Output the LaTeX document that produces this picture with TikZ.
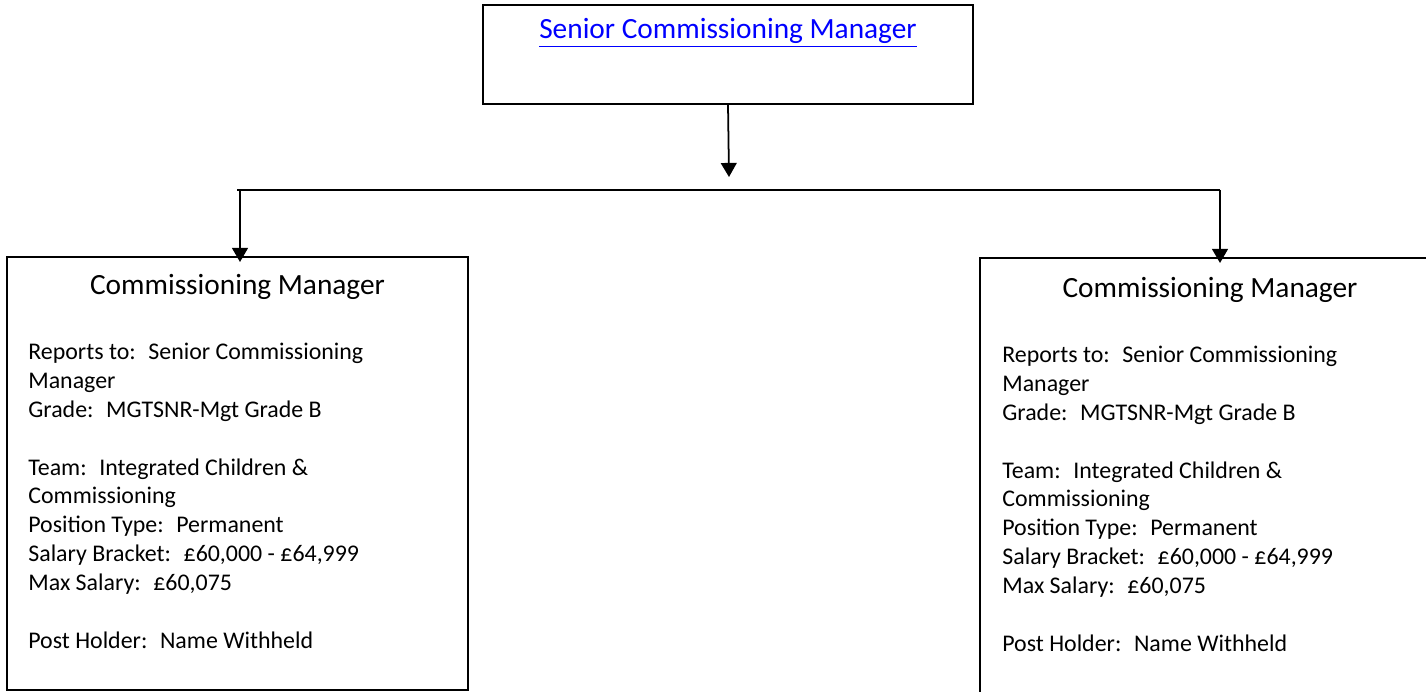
\documentclass[tikz,border=0pt]{standalone}
\usepackage{fontspec}
\setmainfont{Carlito}
\usetikzlibrary{arrows.meta}
\definecolor{linkblue}{RGB}{0,0,255}

\begin{document}
\begin{tikzpicture}[x=0.02cm, y=-0.02cm,
  box/.style = {draw, line width=1pt, inner sep=0pt},
  head/.style = {font=\fontsize{16.7}{20}\selectfont, inner sep=0pt},
  info/.style = {font=\fontsize{13.6}{16.4}\selectfont, align=left, anchor=base west, inner sep=0pt},
  link/.style = {line width=1pt, -{Triangle[width=9pt, length=8pt]}}]

\useasboundingbox (0,0) rectangle (1426,692);

% Boxes
\node[box, minimum width=9.8cm, minimum height=1.98cm] (senior) at (728,54.5) {};
\node[box, minimum width=9.22cm, minimum height=8.66cm] (cmleft) at (237.5,473.5) {};
\node[box, minimum width=9.32cm, minimum height=9.04cm] (cmright) at (1213,484) {};

% Titles
\node[head, text=linkblue] (seniorname) at (728,33) {\underline{Senior Commissioning Manager}};
\node[head] (lefthead) at (237.5,287) {Commissioning Manager};
\node[head] (righthead) at (1210,290) {Commissioning Manager};

% Details (anchored on the last line)
\node[info] (leftinfo) at (28,648) {Reports to:~ Senior Commissioning\\Manager\\Grade:~ MGTSNR-Mgt Grade B\\[16.4pt]
  Team:~ Integrated Children \&\\Commissioning\\Position Type:~ Permanent\\Salary Bracket:~ £60,000 - £64,999\\Max Salary:~ £60,075\\[16.4pt]
  Post Holder:~ Name Withheld};
\node[info] (rightinfo) at (1002,651) {Reports to:~ Senior Commissioning\\Manager\\Grade:~ MGTSNR-Mgt Grade B\\[16.4pt]
  Team:~ Integrated Children \&\\Commissioning\\Position Type:~ Permanent\\Salary Bracket:~ £60,000 - £64,999\\Max Salary:~ £60,075\\[16.4pt]
  Post Holder:~ Name Withheld};

% Connectors
\coordinate (seniortip) at (729,177);
\coordinate (busleft) at (237,190);
\coordinate (busright) at (1220,190);
\coordinate (lefttip) at (240,262);
\coordinate (righttip) at (1220,263);
\draw[link] (senior.south) -- (seniortip);
\draw[line width=1pt] (busleft) -- (busright);
\draw[link] (lefttip |- busleft) -- (lefttip);
\draw[link] (busright) -- (righttip);

\end{tikzpicture}
\end{document}
